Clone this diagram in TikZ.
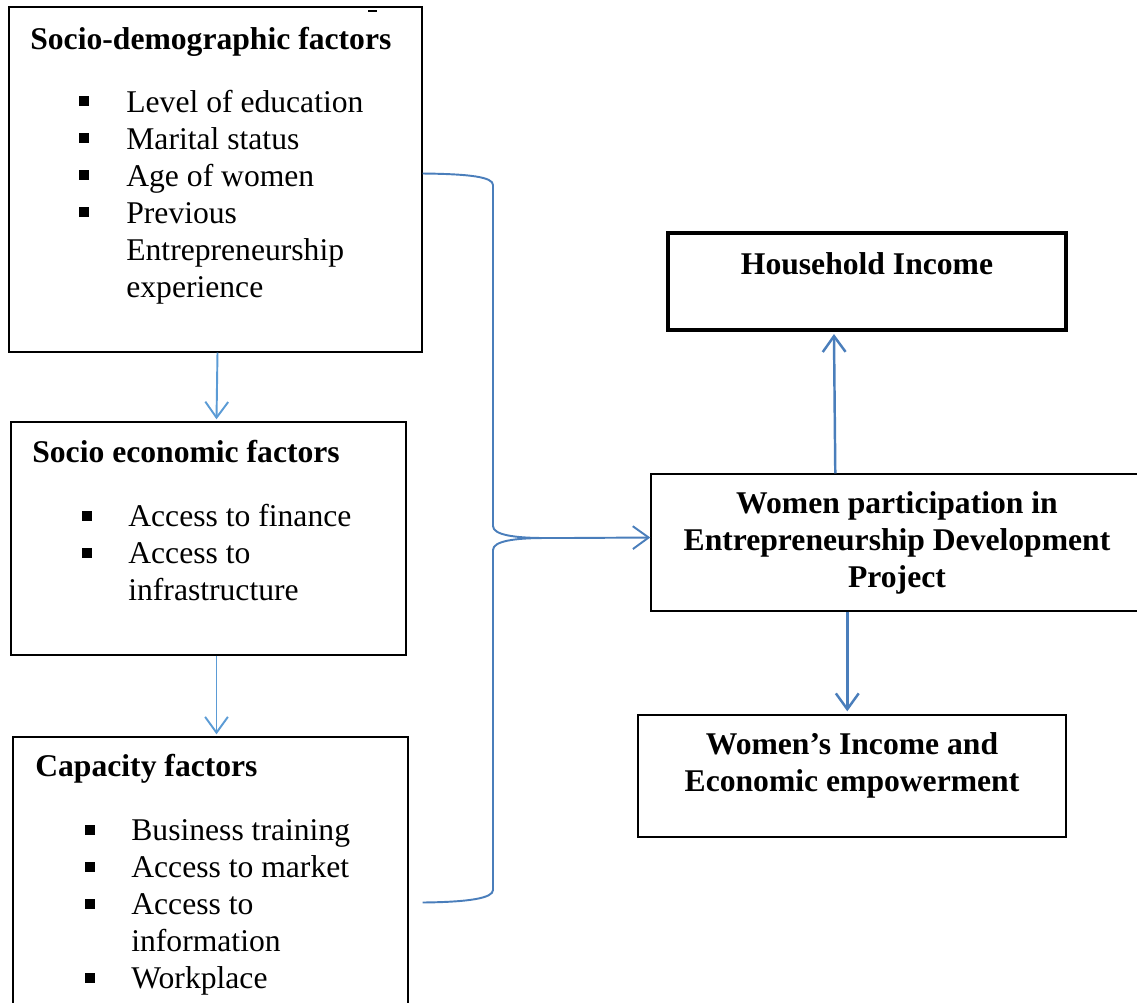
\documentclass[tikz,border=0pt]{standalone}
\usepackage{fontspec}
\setmainfont{Liberation Serif}
\usetikzlibrary{arrows.meta,fit,calc}
\definecolor{arrowblue}{RGB}{91,155,213}
\definecolor{braceblue}{RGB}{74,126,187}

\begin{document}
\begin{tikzpicture}[x=0.02cm,y=-0.02cm,
  box/.style={draw,line width=0.8pt,inner sep=0pt},
  txt/.style={inner sep=0pt,anchor=base west,font=\fontsize{18}{21}\selectfont},
  head/.style={inner sep=0pt,anchor=base west,font=\fontsize{18}{21}\selectfont\bfseries},
  mid/.style={inner sep=0pt,align=center,font=\fontsize{18}{21}\selectfont\bfseries},
  arr/.style={-{Straight Barb[length=9pt,width=13pt]},line width=1.1pt,arrowblue}]
\useasboundingbox (0,0) rectangle (1137,1002);

% left column
\node[box,fit={(9,7) (422,352)}] (demobox) {};
\node[box,fit={(11,422) (406,655)}] (econbox) {};
\node[box,fit={(13,737) (408,1040)}] (capbox) {};
\draw[line width=0.6pt] (368,11) -- (377,11);

\node[head] (demohead) at (30,49) {Socio-demographic factors};
\foreach \t [count=\i] in {Level of education,Marital status,Age of women,Previous,Entrepreneurship,experience}
  \node[txt] (demo\i) at (126,{75+37*\i}) {\t};
\foreach \i in {1,...,4}
  \fill ($(demo\i.base west)+(-47,-16)$) rectangle ++(10,10);

\node[head] (econhead) at (32,462) {Socio economic factors};
\foreach \t [count=\i] in {Access to finance,Access to,infrastructure}
  \node[txt] (econ\i) at (128,{489+37*\i}) {\t};
\foreach \i in {1,2}
  \fill ($(econ\i.base west)+(-46,-15)$) rectangle ++(10,10);

\node[head] (caphead) at (35,776) {Capacity factors};
\foreach \t [count=\i] in {Business training,Access to market,Access to,information,Workplace}
  \node[txt] (cap\i) at (131,{803+37*\i}) {\t};
\foreach \i in {1,2,3,5}
  \fill ($(cap\i.base west)+(-46,-15)$) rectangle ++(10,10);

% right column
\node[draw,line width=2.3pt,inner sep=0pt,fit={(668,233) (1066,330)}] (housebox) {};
\node[mid,anchor=base] (house) at (867,274) {Household Income};
\node[box,fit={(651,474) (1150,611)}] (partbox) {};
\node[mid] (part) at (897,543) {Women participation in\\Entrepreneurship Development\\Project};
\node[box,fit={(638,715) (1066,837)}] (incbox) {};
\node[mid] (inc) at (852,765) {Women’s Income and\\Economic empowerment};

% arrows
\draw[arr] ($(demobox.south)+(2,0)$) -- ($(econbox.north)+(8,-2)$);
\draw[arr] ($(econbox.south)+(8,0)$) -- ($(capbox.north)+(6,-2)$);
\draw[arr,braceblue,line width=1.4pt] ($(partbox.north west)+(185,0)$) -- ($(housebox.south west)+(168,2)$);
\draw[arr,braceblue,line width=1.4pt] ($(partbox.south west)+(197,0)$) -- ($(incbox.north west)+(210,-3)$);

% brace
\coordinate (tip) at (567,538);
\draw[braceblue,line width=1.1pt] ($(demobox.east)+(0,-6)$) .. controls (470,174) and (493,177) .. (493,185)
  -- (493,526) .. controls (493,535) and (515,538) .. (545,538) -- (tip);
\draw[braceblue,line width=1.1pt] (tip) -- (545,538) .. controls (515,538) and (493,541) .. (493,550)
  -- (493,890) .. controls (493,898) and (470,902) .. ($(capbox.east)+(14,14)$);
\draw[arr,braceblue] (tip) -- ($(partbox.west)+(0,-5)$);
\end{tikzpicture}
\end{document}
